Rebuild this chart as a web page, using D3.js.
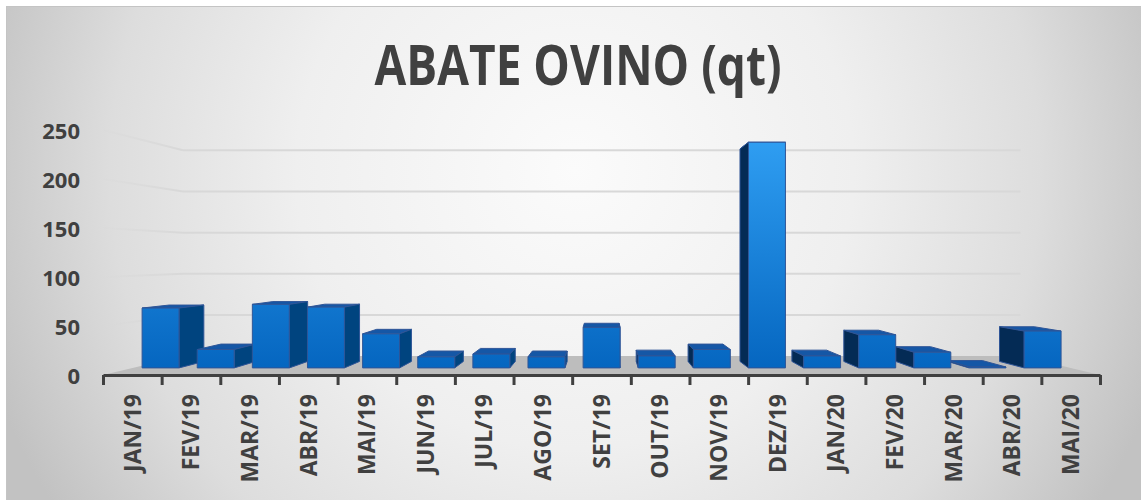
<!DOCTYPE html>
<meta charset="utf-8">

<style>
body { margin: 0; background: #fff; }
svg text { font-family: "Open Sans", sans-serif; font-weight: bold; fill: #404040; }
</style>

<svg class="chart" width="1141" height="500"></svg>

<script src="https://d3js.org/d3.v7.min.js"></script>

<script>

var months = ["JAN/19","FEV/19","MAR/19","ABR/19","MAI/19","JUN/19","JUL/19","AGO/19",
  "SET/19","OUT/19","NOV/19","DEZ/19","JAN/20","FEV/20","MAR/20","ABR/20","MAI/20"];
var abate = [65, 20, 69, 66, 37, 12, 15, 12, 44, 13, 20, 245, 13, 36, 17, 1, 40];
var yTicks = [0, 50, 100, 150, 200, 250];
var title = "ABATE OVINO (qt)";

var svg = d3.select("svg.chart");
var defs = svg.append("defs");

// perspective: vanishing point and depth scales
var vp = {x: 603, y: 257};
var sWall = 0.84, sFront = 0.94, sBack = 0.885;

var x = d3.scaleBand().domain(months).range([103, 1100]).paddingInner(0.33).paddingOuter(0.165);
var edge = d3.scaleLinear().domain([0, months.length]).range([103, 1100]);
var y = d3.scaleLinear().domain([0, 250]).range([375, 130]);

function P(px, py, s) {
  return [vp.x + (px - vp.x) * s, vp.y + (py - vp.y) * s];
}

// background
var bg = defs.append("radialGradient").attr("id", "bg")
  .attr("gradientUnits", "userSpaceOnUse").attr("cx", 575).attr("cy", 170).attr("r", 620);
bg.append("stop").attr("offset", 0).attr("stop-color", "#fbfbfb");
bg.append("stop").attr("offset", 0.45).attr("stop-color", "#efefef");
bg.append("stop").attr("offset", 0.75).attr("stop-color", "#dddddd");
bg.append("stop").attr("offset", 1).attr("stop-color", "#c2c2c2");

svg.append("rect").attr("x", 6.5).attr("y", 6.5).attr("width", 1140).attr("height", 500)
  .attr("fill", "url(#bg)").attr("stroke", "#c4c4c4");

var barFill = defs.append("linearGradient").attr("id", "barFill")
  .attr("gradientUnits", "userSpaceOnUse").attr("x1", 0).attr("x2", 0).attr("y1", 140).attr("y2", 368);
barFill.append("stop").attr("offset", 0).attr("stop-color", "#2f9ef2");
barFill.append("stop").attr("offset", 1).attr("stop-color", "#0566c0");

var wallFade = defs.append("linearGradient").attr("id", "wallFade")
  .attr("gradientUnits", "userSpaceOnUse").attr("x1", 103).attr("x2", 183).attr("y1", 0).attr("y2", 0);
wallFade.append("stop").attr("offset", 0).attr("stop-color", "#d8d8d8").attr("stop-opacity", 0.2);
wallFade.append("stop").attr("offset", 1).attr("stop-color", "#d8d8d8").attr("stop-opacity", 1);

// gridlines: left wall + back wall
var grid = svg.append("g");
yTicks.filter(function(d) { return d > 0; }).forEach(function(v) {
  var a = P(103, y(v), 1), b = P(103, y(v), sWall), c = P(1100, y(v), sWall);
  grid.append("line").attr("x1", a[0]).attr("y1", a[1]).attr("x2", b[0]).attr("y2", b[1])
    .attr("stroke", "url(#wallFade)").attr("stroke-width", 2);
  grid.append("line").attr("x1", b[0]).attr("y1", b[1]).attr("x2", c[0]).attr("y2", c[1])
    .attr("stroke", "#d8d8d8").attr("stroke-width", 2);
});

// floor
var floorPts = [P(103, y(0), 1), P(1100, y(0), 1), P(1100, y(0), sWall), P(103, y(0), sWall)];
svg.append("polygon").attr("points", floorPts.join(" ")).attr("fill", "#bdbdbd");

// bars, outermost first
var order = d3.range(months.length).sort(function(a, b) {
  var ca = x(months[a]) + x.bandwidth() / 2, cb = x(months[b]) + x.bandwidth() / 2;
  return Math.abs(cb - vp.x) - Math.abs(ca - vp.x);
});

var bars = svg.append("g");
order.forEach(function(i) {
  var x0 = x(months[i]), x1 = x0 + x.bandwidth();
  var yt = y(abate[i]), yb = y(0);
  var g = bars.append("g");
  var top = [P(x0, yt, sFront), P(x1, yt, sFront), P(x1, yt, sBack), P(x0, yt, sBack)];
  g.append("polygon").attr("points", top.join(" ")).attr("fill", "#1557a6")
    .attr("stroke", "#2f5597").attr("stroke-width", 1);
  var leftOfVp = (x0 + x1) / 2 < vp.x;
  var sx = leftOfVp ? x1 : x0;
  var side = [P(sx, yt, sFront), P(sx, yt, sBack), P(sx, yb, sBack), P(sx, yb, sFront)];
  g.append("polygon").attr("points", side.join(" "))
    .attr("fill", leftOfVp ? "#00447f" : "#042b55")
    .attr("stroke", "#2f5597").attr("stroke-width", 1);
  var front = [P(x0, yt, sFront), P(x1, yt, sFront), P(x1, yb, sFront), P(x0, yb, sFront)];
  g.append("polygon").attr("points", front.join(" ")).attr("fill", "url(#barFill)")
    .attr("stroke", "#2f5597").attr("stroke-width", 1);
});

// category axis line with ticks at band edges
var axisLine = svg.append("g").attr("transform", "translate(0,375)")
  .call(d3.axisBottom(edge).tickValues(d3.range(months.length + 1)).tickSize(10).tickSizeOuter(0).tickFormat(""));
axisLine.select(".domain").attr("stroke", "#404040").attr("stroke-width", 3);
axisLine.selectAll(".tick line").attr("stroke", "#404040").attr("stroke-width", 3);

// category labels
var xAxis = svg.append("g").attr("transform", "translate(0,394)")
  .call(d3.axisBottom(x).tickSize(0));
xAxis.select(".domain").remove();
xAxis.selectAll("text")
  .attr("transform", "rotate(-90)")
  .attr("x", 0).attr("y", 0).attr("dy", "0.36em")
  .attr("text-anchor", "end")
  .style("font-size", "23px")
  .attr("fill", "#404040");

// value labels
var yAxis = svg.append("g").attr("transform", "translate(80,1)")
  .call(d3.axisLeft(y).tickValues(yTicks).tickSize(0).tickPadding(0));
yAxis.select(".domain").remove();
yAxis.selectAll("text").style("font-size", "22px").attr("fill", "#404040");

// title
var t = svg.append("text").text(title).attr("text-anchor", "middle").style("font-size", "48px");
var fs = 48 * 407 / t.node().getComputedTextLength();
var k = 40 / (0.714 * fs);
t.style("font-size", fs + "px").attr("transform", "translate(578,85) scale(1," + k + ")");

</script>
